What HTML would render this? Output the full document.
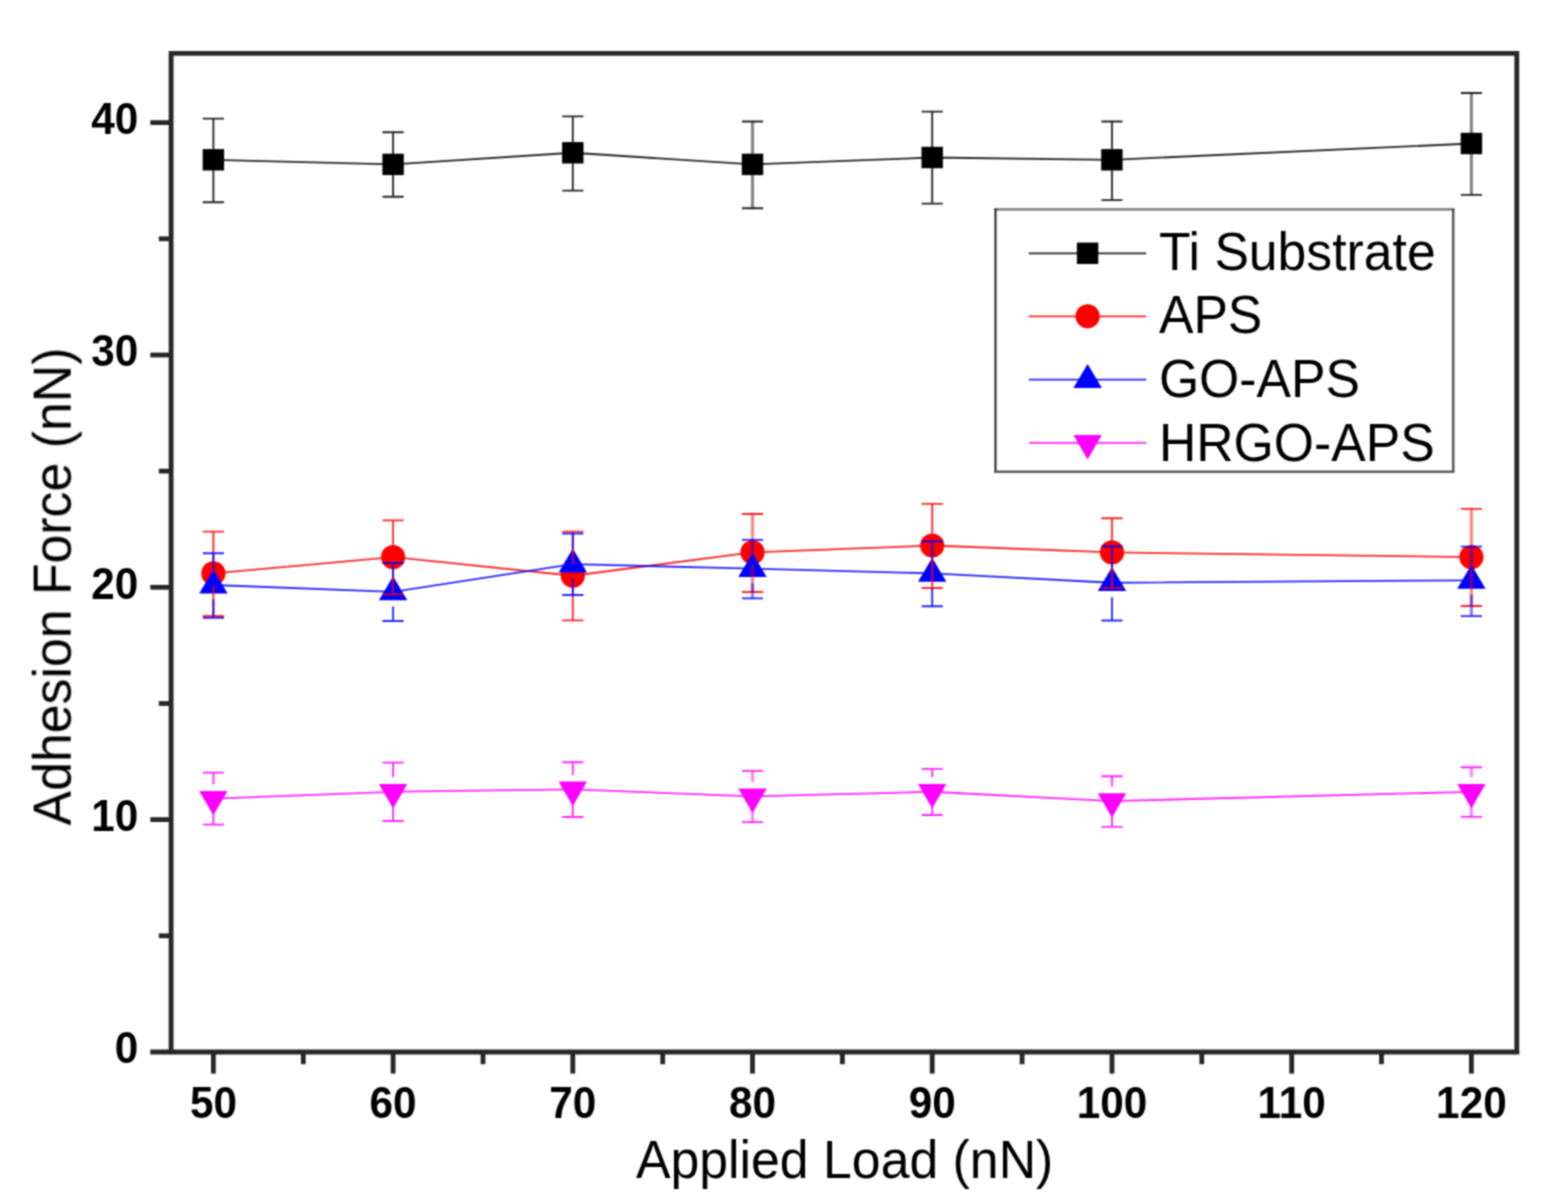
<!DOCTYPE html>
<html lang="en"><head><meta charset="utf-8"><title>Adhesion Force vs Applied Load</title>
<style>
html,body{margin:0;padding:0;background:#fff;}
body{width:1556px;height:1204px;overflow:hidden;}
svg{display:block;}
text{font-family:"Liberation Sans",Arial,sans-serif;fill:#000;}
.tick{font-weight:bold;font-size:42.3px;}
.ttl{font-size:51.8px;}
.leg{font-size:51.7px;}
</style></head><body>
<svg width="1556" height="1204" viewBox="0 0 1556 1204">
<rect width="1556" height="1204" fill="#fff"/>
<defs><filter id="soft" filterUnits="userSpaceOnUse" x="0" y="0" width="1556" height="1204" color-interpolation-filters="sRGB"><feConvolveMatrix order="3" kernelMatrix="1 2 1 2 4 2 1 2 1" edgeMode="duplicate" preserveAlpha="false"/></filter></defs>
<g filter="url(#soft)">
<g stroke="#272727" stroke-width="4.8" fill="none" stroke-linecap="butt">
<path d="M171.1 1054.0 V53.4 H1516.8 V1054.0" stroke-linejoin="miter"/>
<path d="M150.3 1052.0 H1519.2"/>
<path d="M158.8 935.8 H171.1"/>
<path d="M150.3 819.6 H171.1"/>
<path d="M158.8 703.5 H171.1"/>
<path d="M150.3 587.3 H171.1"/>
<path d="M158.8 471.1 H171.1"/>
<path d="M150.3 355.0 H171.1"/>
<path d="M158.8 238.8 H171.1"/>
<path d="M150.3 122.6 H171.1"/>
<path d="M213.4 1052.0 V1073.6"/>
<path d="M303.3 1052.0 V1064.2"/>
<path d="M393.1 1052.0 V1073.6"/>
<path d="M483.0 1052.0 V1064.2"/>
<path d="M572.8 1052.0 V1073.6"/>
<path d="M662.7 1052.0 V1064.2"/>
<path d="M752.5 1052.0 V1073.6"/>
<path d="M842.4 1052.0 V1064.2"/>
<path d="M932.2 1052.0 V1073.6"/>
<path d="M1022.1 1052.0 V1064.2"/>
<path d="M1112.0 1052.0 V1073.6"/>
<path d="M1201.8 1052.0 V1064.2"/>
<path d="M1291.7 1052.0 V1073.6"/>
<path d="M1381.5 1052.0 V1064.2"/>
<path d="M1471.4 1052.0 V1073.6"/>
</g>
<polyline points="213.4,159.8 393.1,164.4 572.8,152.8 752.5,164.4 932.2,157.5 1112.0,159.8 1471.4,143.5" fill="none" stroke="#000000" stroke-width="1.85" stroke-opacity="0.85"/>
<rect x="202.7" y="149.1" width="21.4" height="21.4" fill="#000000"/>
<rect x="382.4" y="153.7" width="21.4" height="21.4" fill="#000000"/>
<rect x="562.1" y="142.1" width="21.4" height="21.4" fill="#000000"/>
<rect x="741.8" y="153.7" width="21.4" height="21.4" fill="#000000"/>
<rect x="921.5" y="146.8" width="21.4" height="21.4" fill="#000000"/>
<rect x="1101.2" y="149.1" width="21.4" height="21.4" fill="#000000"/>
<rect x="1460.7" y="132.8" width="21.4" height="21.4" fill="#000000"/>
<polyline points="213.4,573.4 393.1,557.1 572.8,575.7 752.5,552.4 932.2,545.5 1112.0,552.4 1471.4,557.1" fill="none" stroke="#ff0000" stroke-width="1.85" stroke-opacity="0.85"/>
<circle cx="213.4" cy="573.4" r="12.1" fill="#ff0000"/>
<circle cx="393.1" cy="557.1" r="12.1" fill="#ff0000"/>
<circle cx="572.8" cy="575.7" r="12.1" fill="#ff0000"/>
<circle cx="752.5" cy="552.4" r="12.1" fill="#ff0000"/>
<circle cx="932.2" cy="545.5" r="12.1" fill="#ff0000"/>
<circle cx="1112.0" cy="552.4" r="12.1" fill="#ff0000"/>
<circle cx="1471.4" cy="557.1" r="12.1" fill="#ff0000"/>
<polyline points="213.4,585.0 393.1,591.9 572.8,564.1 752.5,568.7 932.2,573.4 1112.0,582.7 1471.4,580.3" fill="none" stroke="#0000ff" stroke-width="1.85" stroke-opacity="0.85"/>
<polygon points="213.4,569.4 227.6,593.4 199.2,593.4" fill="#0000ff"/>
<polygon points="393.1,576.3 407.3,600.3 378.9,600.3" fill="#0000ff"/>
<polygon points="572.8,548.5 587.0,572.5 558.6,572.5" fill="#0000ff"/>
<polygon points="752.5,553.1 766.7,577.1 738.3,577.1" fill="#0000ff"/>
<polygon points="932.2,557.8 946.4,581.8 918.0,581.8" fill="#0000ff"/>
<polygon points="1112.0,567.1 1126.2,591.1 1097.8,591.1" fill="#0000ff"/>
<polygon points="1471.4,564.7 1485.6,588.7 1457.2,588.7" fill="#0000ff"/>
<polyline points="213.4,798.7 393.1,791.8 572.8,789.4 752.5,796.4 932.2,791.8 1112.0,801.1 1471.4,791.8" fill="none" stroke="#ff00ff" stroke-width="1.85" stroke-opacity="0.85"/>
<polygon points="213.4,815.3 227.6,790.9 199.2,790.9" fill="#ff00ff"/>
<polygon points="393.1,808.4 407.3,784.0 378.9,784.0" fill="#ff00ff"/>
<polygon points="572.8,806.0 587.0,781.6 558.6,781.6" fill="#ff00ff"/>
<polygon points="752.5,813.0 766.7,788.6 738.3,788.6" fill="#ff00ff"/>
<polygon points="932.2,808.4 946.4,784.0 918.0,784.0" fill="#ff00ff"/>
<polygon points="1112.0,817.7 1126.2,793.3 1097.8,793.3" fill="#ff00ff"/>
<polygon points="1471.4,808.4 1485.6,784.0 1457.2,784.0" fill="#ff00ff"/>
<path d="M202.8 118.6H224.0M202.8 202.2H224.0M213.4 118.6V149.3M213.4 202.2V170.3M382.5 132.2H403.7M382.5 196.7H403.7M393.1 132.2V153.9M393.1 196.7V174.9M562.2 116.3H583.4M562.2 190.6H583.4M572.8 116.3V142.3M572.8 190.6V163.3M741.9 121.5H763.1M741.9 208.2H763.1M921.6 111.6H942.8M921.6 203.6H942.8M932.2 111.6V147.0M932.2 203.6V168.0M1101.4 121.5H1122.5M1101.4 200.1H1122.5M1112.0 121.5V149.3M1112.0 200.1V170.3M1460.8 93.0H1482.0M1460.8 194.9H1482.0" fill="none" stroke="#000000" stroke-width="1.85" stroke-opacity="0.85"/>
<path d="M752.5 121.5V153.9M752.5 208.2V174.9M1471.4 93.0V133.0M1471.4 194.9V154.0" fill="none" stroke="#000000" stroke-width="3.2" stroke-opacity="0.47"/>
<path d="M202.8 531.6H224.0M202.8 616.0H224.0M213.4 531.6V561.4M213.4 616.0V585.4M382.5 520.3H403.7M382.5 594.3H403.7M393.1 520.3V545.1M393.1 594.3V569.1M562.2 531.6H583.4M562.2 620.4H583.4M572.8 531.6V563.7M572.8 620.4V587.7M741.9 514.0H763.1M741.9 592.0H763.1M921.6 503.9H942.8M921.6 588.0H942.8M932.2 503.9V533.5M932.2 588.0V557.5M1101.4 518.2H1122.5M1101.4 587.8H1122.5M1112.0 518.2V540.4M1112.0 587.8V564.4M1460.8 508.8H1482.0M1460.8 606.0H1482.0" fill="none" stroke="#ff0000" stroke-width="1.85" stroke-opacity="0.85"/>
<path d="M752.5 514.0V540.4M752.5 592.0V564.4M1471.4 508.8V545.1M1471.4 606.0V569.1" fill="none" stroke="#ff0000" stroke-width="3.2" stroke-opacity="0.47"/>
<path d="M202.8 553.2H224.0M202.8 617.9H224.0M213.4 553.2V570.5M213.4 617.9V599.5M382.5 563.0H403.7M382.5 621.0H403.7M393.1 563.0V577.4M393.1 621.0V606.4M562.2 533.6H583.4M562.2 595.0H583.4M572.8 533.6V549.6M572.8 595.0V578.6M741.9 539.9H763.1M741.9 598.4H763.1M921.6 541.2H942.8M921.6 606.2H942.8M932.2 541.2V558.9M932.2 606.2V587.9M1101.4 546.2H1122.5M1101.4 620.5H1122.5M1112.0 546.2V568.2M1112.0 620.5V597.2M1460.8 546.6H1482.0M1460.8 616.1H1482.0" fill="none" stroke="#0000ff" stroke-width="1.85" stroke-opacity="0.85"/>
<path d="M752.5 539.9V554.2M752.5 598.4V583.2M1471.4 546.6V565.8M1471.4 616.1V594.8" fill="none" stroke="#0000ff" stroke-width="3.2" stroke-opacity="0.47"/>
<path d="M202.8 772.6H224.0M202.8 824.6H224.0M213.4 772.6V784.2M213.4 824.6V813.2M382.5 762.6H403.7M382.5 821.0H403.7M393.1 762.6V777.3M393.1 821.0V806.3M562.2 762.2H583.4M562.2 817.0H583.4M572.8 762.2V774.9M572.8 817.0V803.9M741.9 770.9H763.1M741.9 822.1H763.1M921.6 768.8H942.8M921.6 815.0H942.8M932.2 768.8V777.3M932.2 815.0V806.3M1101.4 776.2H1122.5M1101.4 826.8H1122.5M1112.0 776.2V786.6M1112.0 826.8V815.6M1460.8 767.2H1482.0M1460.8 816.9H1482.0" fill="none" stroke="#ff00ff" stroke-width="1.85" stroke-opacity="0.85"/>
<path d="M752.5 770.9V781.9M752.5 822.1V810.9M1471.4 767.2V777.3M1471.4 816.9V806.3" fill="none" stroke="#ff00ff" stroke-width="3.2" stroke-opacity="0.47"/>
<rect x="995.3" y="209.5" width="457.9" height="262.5" fill="#fff"/>
<path d="M994.3 209.4H1454.5" stroke="#858585" stroke-width="2.6"/>
<path d="M995.5 208.4V473" stroke="#1e1e1e" stroke-width="2"/>
<path d="M1453.2 208.4V473M994.3 471.7H1454.5" stroke="#595959" stroke-width="2.6"/>
<path d="M1028.8 253.3H1146.2" stroke="#000000" stroke-width="1.85" stroke-opacity="0.85"/>
<rect x="1076.9" y="242.6" width="21.4" height="21.4" fill="#000000"/>
<path d="M1028.8 316.3H1146.2" stroke="#ff0000" stroke-width="1.85" stroke-opacity="0.85"/>
<circle cx="1087.6" cy="316.3" r="12.1" fill="#ff0000"/>
<path d="M1028.8 379.6H1146.2" stroke="#0000ff" stroke-width="1.85" stroke-opacity="0.85"/>
<polygon points="1087.6,364.0 1101.8,388.0 1073.4,388.0" fill="#0000ff"/>
<path d="M1028.8 442.9H1146.2" stroke="#ff00ff" stroke-width="1.85" stroke-opacity="0.85"/>
<polygon points="1087.6,459.5 1101.8,435.1 1073.4,435.1" fill="#ff00ff"/>
<text class="leg" transform="translate(1158.9 270.3) scale(1 1.03)">Ti Substrate</text>
<text class="leg" transform="translate(1158.9 333.4) scale(1 1.03)">APS</text>
<text class="leg" transform="translate(1158.9 396.9) scale(1 1.03)">GO-APS</text>
<text class="leg" transform="translate(1158.9 460.6) scale(1 1.03)">HRGO-APS</text>
<text class="tick" transform="translate(138.2 1063.2) scale(1 1.045)" text-anchor="end">0</text>
<text class="tick" transform="translate(138.2 830.9) scale(1 1.045)" text-anchor="end">10</text>
<text class="tick" transform="translate(138.2 598.5) scale(1 1.045)" text-anchor="end">20</text>
<text class="tick" transform="translate(138.2 366.2) scale(1 1.045)" text-anchor="end">30</text>
<text class="tick" transform="translate(138.2 133.8) scale(1 1.045)" text-anchor="end">40</text>
<text class="tick" transform="translate(213.4 1118.4) scale(1 1.045)" text-anchor="middle">50</text>
<text class="tick" transform="translate(393.1 1118.4) scale(1 1.045)" text-anchor="middle">60</text>
<text class="tick" transform="translate(572.8 1118.4) scale(1 1.045)" text-anchor="middle">70</text>
<text class="tick" transform="translate(752.5 1118.4) scale(1 1.045)" text-anchor="middle">80</text>
<text class="tick" transform="translate(932.2 1118.4) scale(1 1.045)" text-anchor="middle">90</text>
<text class="tick" transform="translate(1112.0 1118.4) scale(1 1.045)" text-anchor="middle">100</text>
<text class="tick" transform="translate(1291.7 1118.4) scale(1 1.045)" text-anchor="middle">110</text>
<text class="tick" transform="translate(1471.4 1118.4) scale(1 1.045)" text-anchor="middle">120</text>
<text class="ttl" transform="translate(844.6 1178) scale(1 1.04)" text-anchor="middle">Applied Load (nN)</text>
<text class="ttl" transform="translate(70.6 586.5) rotate(-90) scale(1 1.04)" text-anchor="middle">Adhesion Force (nN)</text>
</g>
</svg>
</body></html>
